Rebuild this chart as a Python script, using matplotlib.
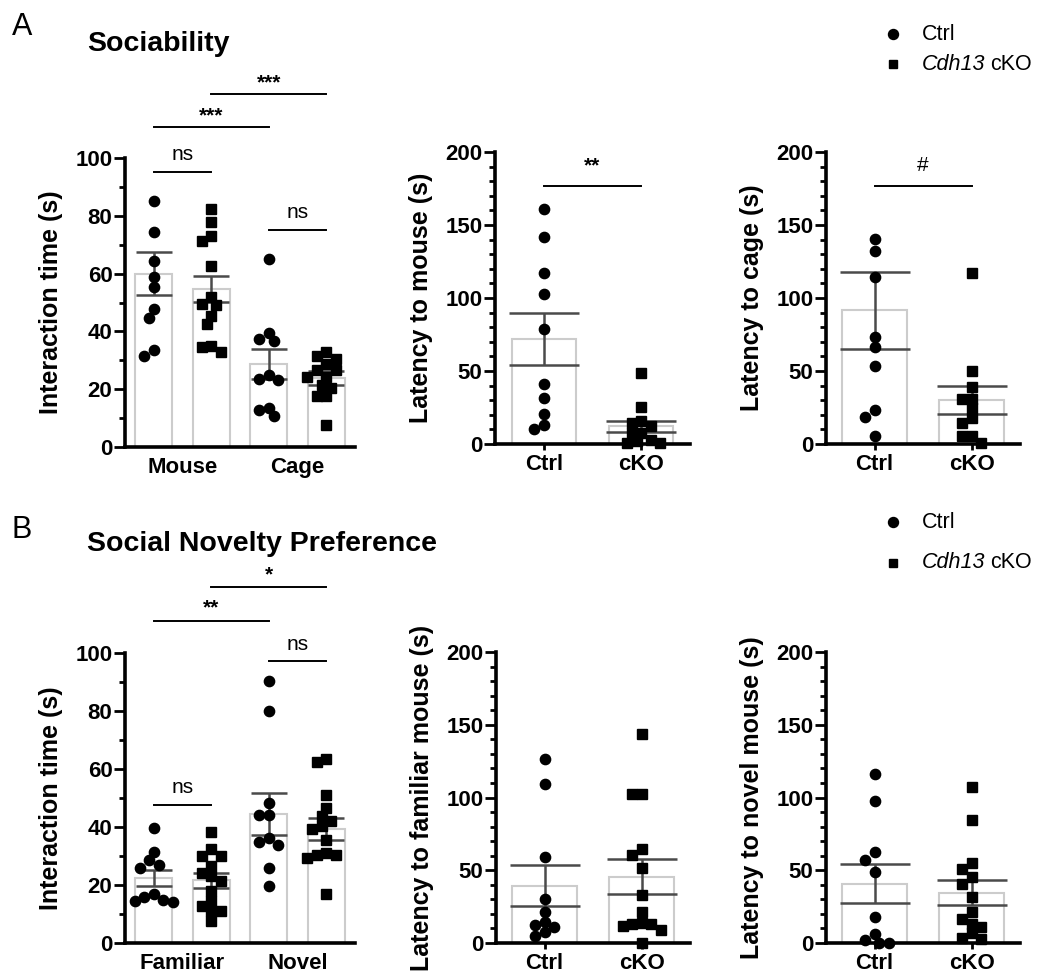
import matplotlib
matplotlib.use('Agg')
import matplotlib.pyplot as plt
import numpy as np
from matplotlib.lines import Line2D
from matplotlib.ticker import MultipleLocator

plt.rcParams['font.family'] = ['Liberation Sans', 'DejaVu Sans']
plt.rcParams['font.weight'] = 'bold'
plt.rcParams['axes.labelweight'] = 'bold'

# ---------------- data ----------------
# A  sociability: interaction time (s)
soc_cats = ['Mouse', 'Cage']
soc_ctrl_mouse = [85, 74.3, 64.5, 58.7, 55.2, 47.8, 44.6, 33.4, 31.4]
soc_cko_mouse = [82.5, 78, 72.9, 71.4, 62.5, 52, 49.5, 49, 45.5, 42.6, 35, 34.5, 32.7]
soc_ctrl_cage = [65.2, 39.4, 37.5, 36.6, 25, 23.5, 23.3, 13.5, 12.9, 10.6]
soc_cko_cage = [32.9, 31.4, 30.6, 28.8, 26.8, 26.8, 24.2, 24.2, 21.3, 20.4, 17.5, 17.5, 7.5]
soc_means = [60, 54.7, 28.7, 23.9]
soc_sems = [7.5, 4.4, 5.2, 2.4]

# A  latency to mouse / cage (s)
groups = ['Ctrl', 'cKO']
lat_mouse_ctrl = [160.8, 141.6, 117.4, 102.8, 78.9, 41, 31.7, 20.3, 13, 10]
lat_mouse_cko = [48.3, 25.5, 15.7, 14.6, 12.3, 7.8, 7.8, 2.7, 2.3, 1, 1]
lat_mouse_means = [71.7, 12.2]
lat_mouse_sems = [17.9, 3.7]

lat_cage_ctrl = [140.7, 132, 114.5, 73.4, 66.1, 53.6, 23.3, 18.2, 5.5]
lat_cage_cko = [117.2, 50.2, 39.2, 31, 31, 24.4, 17.6, 14.1, 5.5, 5.5, 1]
lat_cage_means = [91.5, 30.2]
lat_cage_sems = [26.5, 9.7]

# B  social novelty: interaction time (s)
nov_cats = ['Familiar', 'Novel']
nov_ctrl_fam = [39.5, 31.3, 28.5, 27, 26, 17, 16, 15, 14.5, 14]
nov_cko_fam = [38.2, 32.4, 29.9, 29.9, 26.4, 24.1, 23, 21.3, 17.8, 14.4, 12.6, 10.9, 10.9, 7.5]
nov_ctrl_nov = [90.2, 79.9, 48.3, 44.3, 44.3, 36.2, 34.8, 33.7, 25.9, 19.8]
nov_cko_nov = [63.4, 62.3, 51.1, 46.6, 43.7, 42, 40.2, 39.4, 35.6, 31, 30.5, 30.5, 29.3, 17]
nov_means = [22.4, 21.6, 44.5, 39.3]
nov_sems = [2.9, 2.5, 7.2, 3.7]

# B  latency to familiar / novel mouse (s)
lat_fam_ctrl = [126.2, 109, 59, 30.2, 21, 14.2, 12.6, 10.7, 7.3, 5]
lat_fam_cko = [143.3, 102.6, 102.2, 64.9, 60.3, 51.4, 33.1, 21, 13.7, 13, 13, 11.9, 8.7, 0]
lat_fam_means = [39.5, 45.5]
lat_fam_sems = [14, 12.1]

lat_nov_ctrl = [116, 97.7, 62.2, 57.2, 48.5, 18.1, 6.2, 2.1, 0, 0]
lat_nov_cko = [106.9, 84.4, 54.7, 50.6, 45.1, 40.5, 31.8, 21, 16.5, 13, 11.2, 6.6, 3.4, 2.7]
lat_nov_means = [40.7, 34.7]
lat_nov_sems = [13.5, 8.5]

W, H = 1045, 974
fig = plt.figure(figsize=(W / 100, H / 100), dpi=100)


def px_axes(left, right, top, bottom):
    return fig.add_axes([left / W, 1 - bottom / H, (right - left) / W, (bottom - top) / H])


def swarm(ax, x0, values, d=9.5):
    # spread overlapping points sideways (pixel space), like Prism's scatter
    vals = np.asarray(values, float)
    pts = ax.transData.transform(np.column_stack([np.full(len(vals), x0), vals]))
    order = np.argsort(-vals)
    placed = []
    xs = np.zeros(len(vals))
    for i in order:
        px, py = pts[i]
        k = 0
        while True:
            cands = [0.0] if k == 0 else [-k * d, k * d]
            ok = None
            for c in cands:
                if all(np.hypot(px + c - qx, py - qy) >= d * 0.98 for qx, qy in placed):
                    ok = c
                    break
            if ok is not None:
                break
            k += 0.5
        placed.append((px + ok, py))
        xs[i] = px + ok
    back = ax.transData.inverted().transform(np.column_stack([xs, pts[:, 1]]))
    return back[:, 0]


def style(ax, xlim, ymax, major, minor, xtick_len=0):
    ax.set_xlim(*xlim)
    ax.set_ylim(0, ymax)
    for s in ['top', 'right']:
        ax.spines[s].set_visible(False)
    for s in ['left', 'bottom']:
        ax.spines[s].set_linewidth(2.6)
    ax.yaxis.set_major_locator(MultipleLocator(major))
    ax.yaxis.set_minor_locator(MultipleLocator(minor))
    ax.tick_params(axis='y', which='major', length=8, width=2, labelsize=16, pad=1)
    ax.tick_params(axis='y', which='minor', length=4.5, width=2)
    ax.tick_params(axis='x', length=xtick_len, width=2, labelsize=16,
                   pad=7 - xtick_len)


def draw_group(ax, x, mean, sem, values, marker, bw, cap):
    ax.bar(x, mean, width=bw, color='white', edgecolor='#cccccc', linewidth=1.5, zorder=1)
    ax.errorbar(x, mean, yerr=sem, fmt='none', ecolor='#4a4a4a', elinewidth=1.8,
                capsize=cap, capthick=1.8, zorder=2)
    xs = swarm(ax, x, values)
    ms = 7.4 if marker == 'o' else 6.6
    ax.plot(xs, values, linestyle='none', marker=marker, ms=ms, color='black',
            clip_on=False, zorder=3)


def sig(ax, x1, x2, y, ty, label, bold=True):
    ax.plot([x1, x2], [y, y], color='black', lw=1.4, clip_on=False)
    ax.text((x1 + x2) / 2, ty, label, ha='center', va='center', fontsize=15,
            fontweight='bold' if bold else 'normal', clip_on=False)


# ---------- A1 ----------
ax = px_axes(125, 355, 158, 447)
style(ax, (-0.5, 3.5), 100, 20, 10)
sets = [soc_ctrl_mouse, soc_cko_mouse, soc_ctrl_cage, soc_cko_cage]
for i, vals in enumerate(sets):
    draw_group(ax, i, soc_means[i], soc_sems[i], vals, 'o' if i % 2 == 0 else 's', 0.65, 13)
ax.set_xticks([0.5, 2.5])
ax.set_xticklabels(soc_cats)
ax.set_ylabel('Interaction time (s)', fontsize=18, labelpad=9)
sig(ax, 0, 1, 95.2, 101.2, 'ns', bold=False)
sig(ax, 2, 3, 75.2, 81.2, 'ns', bold=False)
sig(ax, 0, 2, 110.7, 114.5, '***')
sig(ax, 1, 3, 122.1, 126, '***')

# ---------- A2 / A3 ----------
for (l, r), vals, means, sems, lab, mark in [
        ((495, 690), (lat_mouse_ctrl, lat_mouse_cko), lat_mouse_means, lat_mouse_sems,
         'Latency to mouse (s)', '**'),
        ((826, 1020), (lat_cage_ctrl, lat_cage_cko), lat_cage_means, lat_cage_sems,
         'Latency to cage (s)', '#')]:
    ax = px_axes(l, r, 152, 444)
    style(ax, (-0.5, 1.5), 200, 50, 10, xtick_len=4)
    for i in range(2):
        draw_group(ax, i, means[i], sems[i], vals[i], 'o' if i == 0 else 's', 0.66, 25)
    ax.set_xticks([0, 1])
    ax.set_xticklabels(groups)
    ax.set_ylabel(lab, fontsize=18, labelpad=9)
    sig(ax, 0, 1, 176.7, 190.5, mark, bold=(mark != '#'))

# ---------- B1 ----------
ax = px_axes(125, 355, 653, 943)
style(ax, (-0.5, 3.5), 100, 20, 10)
sets = [nov_ctrl_fam, nov_cko_fam, nov_ctrl_nov, nov_cko_nov]
for i, vals in enumerate(sets):
    draw_group(ax, i, nov_means[i], nov_sems[i], vals, 'o' if i % 2 == 0 else 's', 0.65, 13)
ax.set_xticks([0.5, 2.5])
ax.set_xticklabels(nov_cats)
ax.set_ylabel('Interaction time (s)', fontsize=18, labelpad=9)
sig(ax, 0, 1, 47.5, 53.5, 'ns', bold=False)
sig(ax, 2, 3, 97.1, 103, 'ns', bold=False)
sig(ax, 0, 2, 111.1, 115.5, '**')
sig(ax, 1, 3, 122.8, 127, '*')

# ---------- B2 / B3 ----------
for (l, r), vals, means, sems, lab in [
        ((496, 690), (lat_fam_ctrl, lat_fam_cko), lat_fam_means, lat_fam_sems,
         'Latency to familiar mouse (s)'),
        ((826, 1020), (lat_nov_ctrl, lat_nov_cko), lat_nov_means, lat_nov_sems,
         'Latency to novel mouse (s)')]:
    ax = px_axes(l, r, 652, 943)
    style(ax, (-0.5, 1.5), 200, 50, 10, xtick_len=4)
    for i in range(2):
        draw_group(ax, i, means[i], sems[i], vals[i], 'o' if i == 0 else 's', 0.66, 25)
    ax.set_xticks([0, 1])
    ax.set_xticklabels(groups)
    ax.set_ylabel(lab, fontsize=18, labelpad=9)

# ---------- panel letters, titles, legends ----------
fig.text(12 / W, 1 - 35 / H, 'A', fontsize=22, fontweight='normal', va='baseline')
fig.text(87 / W, 1 - 51 / H, 'Sociability', fontsize=20.5, va='baseline')
fig.text(12 / W, 1 - 538 / H, 'B', fontsize=22, fontweight='normal', va='baseline')
fig.text(87 / W, 1 - 551 / H, 'Social Novelty Preference', fontsize=20.5, va='baseline')

renderer = fig.canvas.get_renderer()
for y1, y2 in [(34, 64), (522, 563)]:
    fig.add_artist(Line2D([893 / W], [1 - y1 / H], marker='o', ms=7.2, color='black',
                          linestyle='none', transform=fig.transFigure))
    fig.add_artist(Line2D([893 / W], [1 - y2 / H], marker='s', ms=6.4, color='black',
                          linestyle='none', transform=fig.transFigure))
    fig.text(922 / W, 1 - y1 / H, 'Ctrl', fontsize=15.5, fontweight='normal', va='center')
    t = fig.text(922 / W, 1 - y2 / H, 'Cdh13', fontsize=15.5, fontweight='normal',
                 style='italic', va='center')
    x_end = t.get_window_extent(renderer).x1
    fig.text((x_end + 5) / W, 1 - y2 / H, 'cKO', fontsize=15.5, fontweight='normal',
             va='center')

fig.savefig('out.png', dpi=100)
